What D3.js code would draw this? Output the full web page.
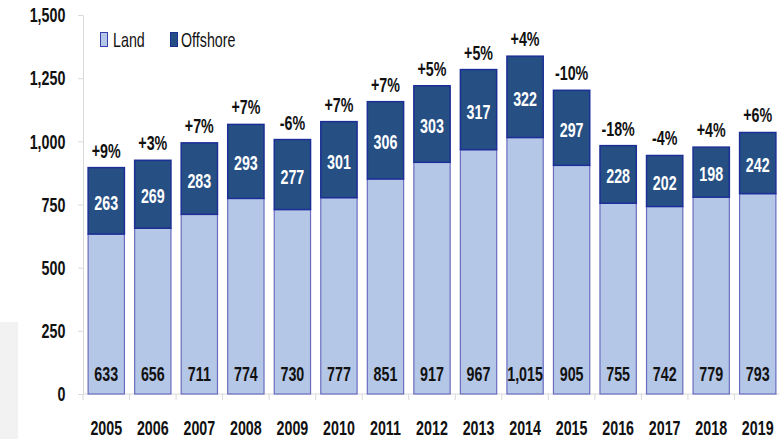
<!DOCTYPE html>
<html>
<head>
<meta charset="utf-8">
<script src="https://cdn.jsdelivr.net/npm/d3@7"></script>
<style>
  body { margin: 0; background: #fff; }
  svg text { font-family: "Liberation Sans", Arial, sans-serif; }
</style>
</head>
<body>
<div id="chart"></div>
<script>
// Data
const years = ["2005", "2006", "2007", "2008", "2009", "2010", "2011", "2012", "2013", "2014", "2015", "2016", "2017", "2018", "2019"];
const land = [633, 656, 711, 774, 730, 777, 851, 917, 967, 1015, 905, 755, 742, 779, 793];
const offshore = [263, 269, 283, 293, 277, 301, 306, 303, 317, 322, 297, 228, 202, 198, 242];
const growth = ["+9%", "+3%", "+7%", "+7%", "-6%", "+7%", "+7%", "+5%", "+5%", "+4%", "-10%", "-18%", "-4%", "+4%", "+6%"];
const yTicks = [0, 250, 500, 750, 1000, 1250, 1500];

const width = 779, height = 439;
// text in the source is narrow and stretched vertically
const SX = 0.84, SY = 1.24;
const landFill = "#b4c7e7", landStroke = "#6b6cc0";
const offFill = "#264f84", offStroke = "#1c2f96";
const axisGrey = "#d9d9d9";

const svg = d3.select("#chart").append("svg")
    .attr("width", width)
    .attr("height", height);

svg.append("rect").attr("width", width).attr("height", height).attr("fill", "#fff");
// faint grey block bottom-left
svg.append("rect").attr("x", 0).attr("y", 322).attr("width", 18).attr("height", height - 322).attr("fill", "#f2f2f2");

const x = d3.scaleBand().domain(years).range([83, 781]).paddingInner(0.22).paddingOuter(0.11);
const y = d3.scaleLinear().domain([0, 1500]).range([394, 15]);

// helper for squeezed text
function label(x0, y0, txt, opts) {
    return svg.append("text")
        .attr("transform", `translate(${x0},${y0}) scale(${SX},${SY})`)
        .attr("text-anchor", opts.anchor || "middle")
        .attr("fill", opts.fill || "#111")
        .style("font-size", (opts.size || 17) + "px")
        .style("font-weight", opts.weight || "bold")
        .text(txt);
}

// y axis
const yAxis = svg.append("g")
    .attr("transform", "translate(83,0)")
    .call(d3.axisLeft(y).tickValues(yTicks).tickFormat(d3.format(",")).tickSize(5).tickSizeOuter(0).tickPadding(16));
yAxis.select(".domain").attr("stroke", axisGrey);
yAxis.selectAll(".tick line").attr("stroke", axisGrey);
yAxis.selectAll(".tick text")
    .attr("transform", `scale(${SX},${SY})`)
    .attr("fill", "#111")
    .style("font-family", '"Liberation Sans", Arial, sans-serif')
    .style("font-size", "17px")
    .style("font-weight", "bold");

// x axis line with ticks at band boundaries
const xAxisG = svg.append("g");
xAxisG.append("line").attr("x1", 83).attr("x2", 781).attr("y1", 394).attr("y2", 394).attr("stroke", axisGrey);
years.forEach((yr, i) => {
    const bx = x(yr) - x.step() * x.paddingInner() / 2;
    xAxisG.append("line").attr("x1", bx).attr("x2", bx).attr("y1", 394).attr("y2", 400).attr("stroke", axisGrey);
});

// bars
const bars = svg.append("g");
years.forEach((yr, i) => {
    const total = land[i] + offshore[i];
    bars.append("rect")
        .attr("x", x(yr)).attr("width", x.bandwidth())
        .attr("y", y(land[i])).attr("height", y(0) - y(land[i]))
        .attr("fill", landFill).attr("stroke", landStroke).attr("stroke-width", 1.2);
    bars.append("rect")
        .attr("x", x(yr)).attr("width", x.bandwidth())
        .attr("y", y(total)).attr("height", y(land[i]) - y(total))
        .attr("fill", offFill).attr("stroke", offStroke).attr("stroke-width", 1.5);
});

// labels
years.forEach((yr, i) => {
    const cx = x(yr) + x.bandwidth() / 2;
    const total = land[i] + offshore[i];
    label(cx, 381, d3.format(",")(land[i]), {});
    label(cx, (y(total) + y(land[i])) / 2 + 9, offshore[i], { fill: "#fff" });
    label(cx, y(total) - 10, growth[i], {});
    label(cx, 435, yr, {});
});

// legend
svg.append("rect").attr("x", 100.5).attr("y", 32.5).attr("width", 7).attr("height", 14)
    .attr("fill", landFill).attr("stroke", "#3a3fb0").attr("stroke-width", 1);
label(113, 47, "Land", { anchor: "start", weight: "normal" });
svg.append("rect").attr("x", 170.5).attr("y", 32.5).attr("width", 7).attr("height", 14)
    .attr("fill", offFill).attr("stroke", offStroke).attr("stroke-width", 1);
label(181, 47, "Offshore", { anchor: "start", weight: "normal" });
</script>
</body>
</html>
